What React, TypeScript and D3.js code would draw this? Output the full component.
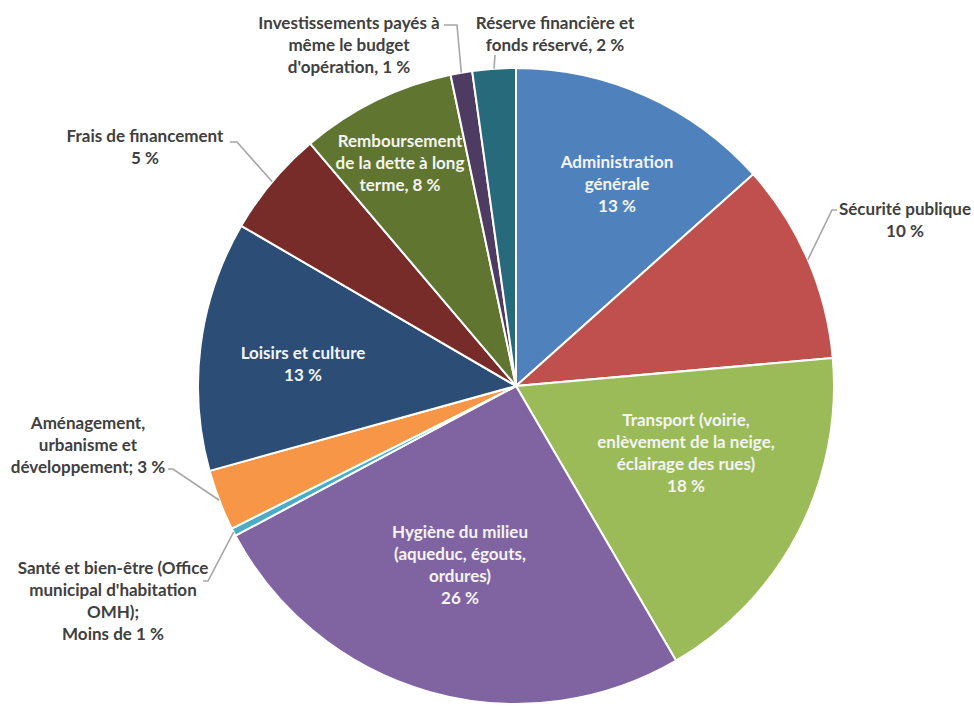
import React from "react";
import * as d3 from "d3";

// ---- data ----
const categories = [
  "Administration générale",
  "Sécurité publique",
  "Transport",
  "Hygiène du milieu",
  "Santé et bien-être",
  "Aménagement, urbanisme et développement",
  "Loisirs et culture",
  "Frais de financement",
  "Remboursement de la dette à long terme",
  "Investissements payés à même le budget d'opération",
  "Réserve financière et fonds réservé",
];
const values = [13.4, 10.2, 18.0, 25.6, 0.4, 3.1, 12.7, 5.4, 7.9, 1.1, 2.2];
const labelLines: string[][] = [
  ["Administration", "générale", "13 %"],
  ["Sécurité publique", "10 %"],
  ["Transport (voirie,", "enlèvement de la neige,", "éclairage des rues)", "18 %"],
  ["Hygiène du milieu", "(aqueduc, égouts,", "ordures)", "26 %"],
  ["Santé et bien-être (Office", "municipal d'habitation", "OMH);", "Moins de 1 %"],
  ["Aménagement,", "urbanisme et", "développement; 3 %"],
  ["Loisirs et culture", "13 %"],
  ["Frais de financement", "5 %"],
  ["Remboursement", "de la dette à long", "terme, 8 %"],
  ["Investissements payés à", "même le budget", "d'opération, 1 %"],
  ["Réserve financière et", "fonds réservé, 2 %"],
];
const sliceColors = [
  "#4F81BD", "#C0504D", "#9BBB59", "#8064A2", "#4BACC6", "#F79646",
  "#2C4D75", "#772C2A", "#5F7530", "#4D3B62", "#276A7C",
];
const insideLabel = [true, false, true, true, false, false, true, false, true, false, false];

// ---- layout ----
const W = 974;
const H = 706;
const CX = 516;
const CY = 386;
const R = 318;
const LINE_H = 22;
// label block centers (x, first-line y)
const labelPos: [number, number][] = [
  [617, 161],
  [905, 208],
  [686, 419],
  [460, 531],
  [113, 567],
  [88, 422],
  [303, 352],
  [145, 135],
  [400, 140],
  [349, 22],
  [555, 22],
];
// leader elbows (after pie-edge point) for outside labels
const leaderPts: ([number, number][] | null)[] = [
  null,
  [[832, 210], [837, 210]],
  null,
  null,
  [[208, 581], [203, 581]],
  [[173, 469], [168, 469]],
  null,
  [[237, 142], [230, 142]],
  null,
  [[457, 25], [444, 25]],
  [[495, 55]],
];

export default function App() {
  const pie = d3
    .pie<number>()
    .sort(null)
    .value((d) => d)
    .startAngle(0)
    .endAngle(2 * Math.PI);
  const arcs = pie(values);
  const arc = d3.arc<d3.PieArcDatum<number>>().innerRadius(0).outerRadius(R);
  const edge = d3.arc<d3.PieArcDatum<number>>().innerRadius(R).outerRadius(R);

  return (
    <div style={{ position: "absolute", left: 0, top: 0, width: W, height: H }}>
      <svg width={W} height={H} style={{ display: "block", background: "#fff" }}>
        <g transform={`translate(${CX},${CY})`}>
          {arcs.map((a, i) => (
            <path
              key={categories[i]}
              d={arc(a) || ""}
              fill={sliceColors[i]}
              stroke="#fff"
              strokeWidth={2}
              strokeLinejoin="round"
            />
          ))}
        </g>
        {arcs.map((a, i) => {
          const pts = leaderPts[i];
          if (!pts) return null;
          const [ex, ey] = edge.centroid(a);
          const all: [number, number][] = [[CX + ex, CY + ey], ...pts];
          const line = d3.line()(all) || "";
          return (
            <path key={"l" + i} d={line} fill="none" stroke="#A6A6A6" strokeWidth={1.6} />
          );
        })}
        {labelLines.map((lines, i) => {
          const [lx, ly] = labelPos[i];
          const inside = insideLabel[i];
          return (
            <text
              key={"t" + i}
              x={lx}
              y={ly}
              textAnchor="middle"
              fontFamily="Lato, 'Open Sans', sans-serif"
              fontWeight={700}
              fontSize={17}
              fill={inside ? "#F4F4F4" : "#404040"}
            >
              {lines.map((ln, j) => (
                <tspan key={j} x={lx} y={ly + j * LINE_H} dominantBaseline="central">
                  {ln}
                </tspan>
              ))}
            </text>
          );
        })}
      </svg>
    </div>
  );
}
